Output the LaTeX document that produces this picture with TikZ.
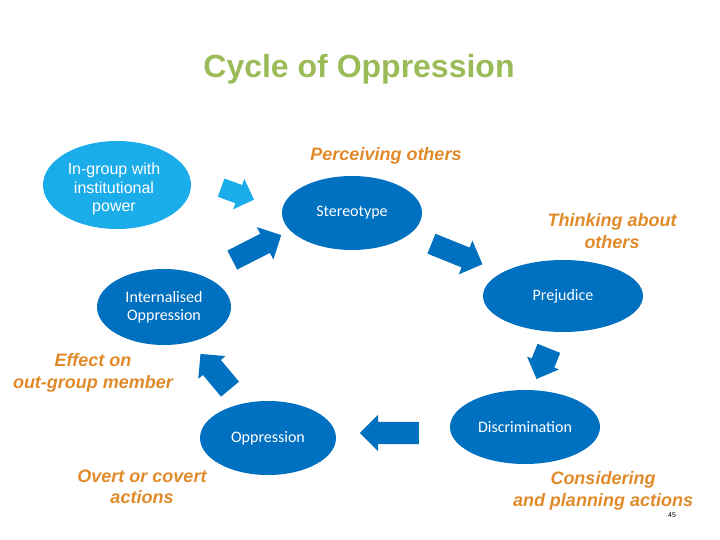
\documentclass[tikz,border=0pt]{standalone}
\usepackage{fontspec}
\setmainfont{Liberation Sans}
\newfontfamily\calibri{Carlito}
\usetikzlibrary{shapes.geometric,shapes.arrows}
\definecolor{cycleblue}{RGB}{0,112,192}
\definecolor{skyblue}{RGB}{27,172,234}
\definecolor{stageorange}{RGB}{224,138,42}
\definecolor{titlegreen}{RGB}{155,187,89}

\begin{document}
\begin{tikzpicture}[x=1pt, y=-1pt,
  stage/.style={ellipse, fill=cycleblue, text=white, inner sep=0pt, align=center,
    font=\calibri\fontsize{16}{18}\selectfont},
  flow/.style={single arrow, fill=cycleblue, inner xsep=0pt, single arrow head indent=0pt},
  caption/.style={text=stageorange, align=center, font=\bfseries\itshape\fontsize{18}{21.5}\selectfont}]
  \useasboundingbox (0,0) rectangle (720,540);
  \node[text=titlegreen, font=\bfseries\fontsize{32}{36}\selectfont] (title) at (359,69) {Cycle of Oppression};

  % stages of the cycle
  \node[ellipse, fill=skyblue, text=white, minimum width=148pt, minimum height=88pt, inner sep=0pt] (ingroup) at (117,185) {};
  \node[text=white, align=center, font=\fontsize{16}{18.5}\selectfont] (ingrouptext) at (114,189) {In-group with\\institutional\\power};
  \node[stage, minimum width=140pt, minimum height=74pt] (stereo) at (352,213) {Stereotype};
  \node[stage, minimum width=160pt, minimum height=72pt] (prej) at (563,296) {Prejudice};
  \node[stage, minimum width=150pt, minimum height=74pt] (discr) at (525,427) {Discrimination};
  \node[stage, minimum width=136pt, minimum height=74pt] (oppr) at (268,438) {Oppression};
  \node[stage, minimum width=134pt, minimum height=76pt] (internal) at (164,307) {Internalised\\Oppression};

  % block arrows
  \node[flow, fill=skyblue, minimum height=35pt, inner ysep=9.5pt, single arrow head extend=6.5pt, rotate=-20] (push) at (233,192) {};
  \node[flow, minimum height=55pt, inner ysep=10.5pt, single arrow head extend=7.5pt, rotate=27] (f1) at (252,250) {};
  \node[flow, minimum height=55pt, inner ysep=10.5pt, single arrow head extend=7.5pt, rotate=-22] (f2) at (452,252) {};
  \node[flow, minimum height=33pt, inner ysep=12pt, single arrow head extend=5pt, rotate=-112] (f3) at (545,358) {};
  \node[flow, minimum height=59pt, inner ysep=11pt, single arrow head extend=7pt, rotate=180] (f4) at (395,433) {};
  \node[flow, minimum height=46pt, inner ysep=11.5pt, single arrow head extend=6pt, rotate=130] (f5) at (219,376) {};

  % what happens at each stage
  \node[caption] (perceive) at (386,156) {Perceiving others};
  \node[caption] (think) at (612,231) {Thinking about\\others};
  \node[caption] (plan) at (603,491) {Considering\\and planning actions};
  \node[caption] (act) at (142,487) {Overt or covert\\actions};
  \node[caption] (effect) at (93,373) {Effect on\\out-group member};
  \node[font=\fontsize{7}{8}\selectfont] (slide) at (672,515) {45};
\end{tikzpicture}
\end{document}
